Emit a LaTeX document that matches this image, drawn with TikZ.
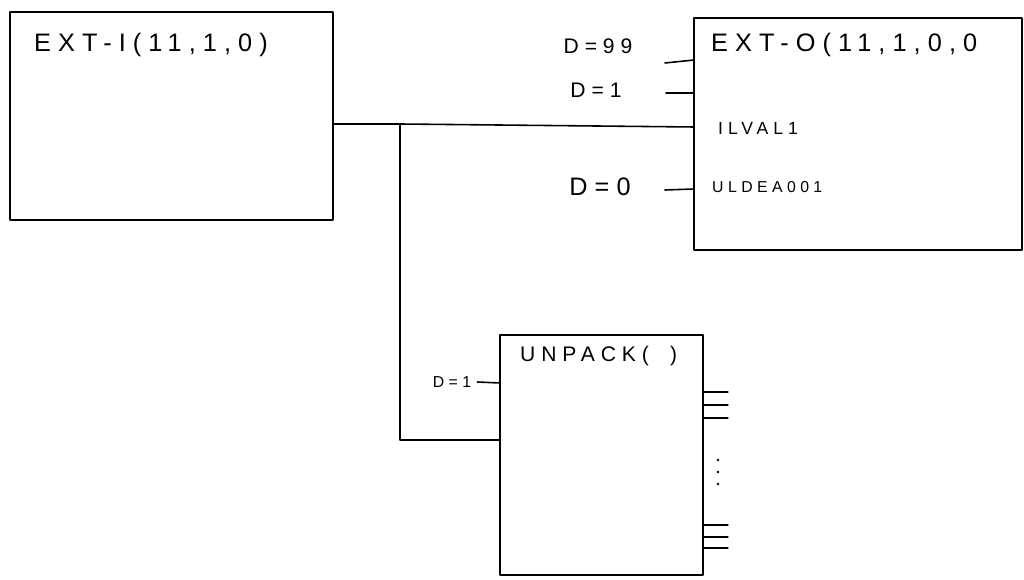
\documentclass[tikz,border=0pt]{standalone}
\usepackage{fontspec}
\setmainfont{Liberation Sans}
\newfontfamily\handfont[LetterSpace=28]{Liberation Sans}
\usetikzlibrary{positioning}
\tikzset{
  block/.style={draw, line width=1pt, rectangle, inner sep=0pt},
  blocktitle/.style={anchor=west, font=\handfont\Large},
  portname/.style={anchor=west, font=\handfont\normalsize},
  param/.style={font=\handfont\large},
  wire/.style={line width=0.9pt}
}
\begin{document}
\begin{tikzpicture}[x=0.02cm, y=-0.02cm, line cap=round, line join=round]
  \useasboundingbox (0,0) rectangle (1024,580);

  % Blocks
  \node[block, minimum width=6.46cm, minimum height=4.16cm] (exti) at (171.5,116) {};
  \node[block, minimum width=6.56cm, minimum height=4.64cm] (exto) at (858,134) {};
  \node[block, minimum width=4.06cm, minimum height=4.8cm] (unpack) at (601.5,455) {};

  % Block titles
  \node[blocktitle] (extitext) at (28,45) {EXT-I(11,1,0)};
  \node[blocktitle] (extotext) at (705,45) {EXT-O(11,1,0,0};
  \node[blocktitle, font=\handfont\large] (unpacktext) at (514,356) {UNPACK(\quad)};

  % Port names inside EXT-O
  \node[portname] (ilval) at (712,128) {ILVAL1};
  \node[portname, font=\handfont\small] (uldea) at (706,187) {ULDEA001};

  % Ports
  \coordinate (exti-o) at (333,124);
  \coordinate (exto-i1) at (694,60);
  \coordinate (exto-i2) at (694,93);
  \coordinate (exto-i3) at (694,127);
  \coordinate (exto-i4) at (694,189);
  \coordinate (unpack-i1) at (500,383);
  \coordinate (unpack-i2) at (500,440);
  \coordinate (split) at (400,124);

  % Main signal
  \draw[wire] (exti-o) -- (split) -- (exto-i3);
  \draw[wire] (split) -- (split |- unpack-i2) -- (unpack-i2);

  % Constant inputs
  \node[param] (d99) at (598,46) {D=99};
  \node[param] (d1) at (596,90) {D=1};
  \node[param, font=\handfont\Large] (d0) at (600,187) {D=0};
  \node[param, font=\handfont\small] (d1u) at (452,382) {D=1};
  \draw[wire] (exto-i1) -- ++(-29,3);
  \draw[wire] (exto-i2) -- ++(-28,0);
  \draw[wire] (exto-i4) -- ++(-29,1);
  \draw[wire] (unpack-i1) -- (d1u.east);

  % Outputs of UNPACK
  \foreach \y in {392,405,418,525,537,548}
    \draw[wire] (unpack.east |- 0,\y) -- ++(24,0);
  \foreach \y in {460,472,484}
    \fill (718,\y) circle (1.3);
\end{tikzpicture}
\end{document}
